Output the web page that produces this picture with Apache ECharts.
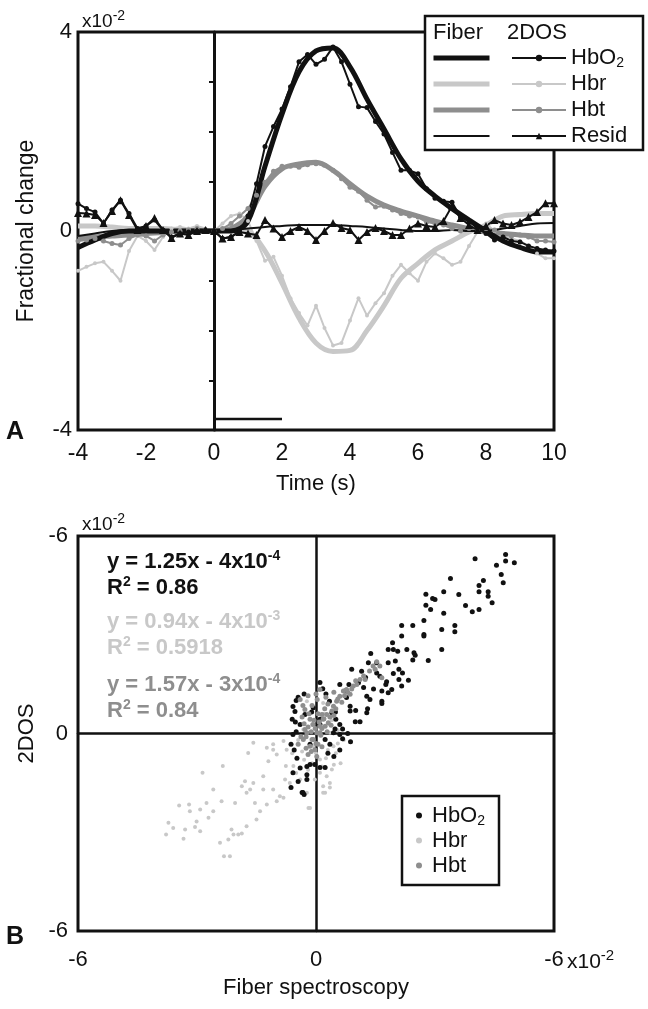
<!DOCTYPE html>
<html>
<head>
<meta charset="utf-8">
<title>Fiber vs 2DOS</title>
<script src="https://cdn.jsdelivr.net/npm/echarts@6/dist/echarts.min.js"></script>
<style>
html, body { margin: 0; padding: 0; background: #fff; }
#main { width: 648px; height: 1009px; }
</style>
</head>
<body>
<div id="main"></div>
<script>
// ---- panel A : fractional change (x10^-2) vs time (s) ----
var tFiber = [-4, -3.5, -3, -2.5, -2, -1.5, -1, -0.5, 0, 0.5, 1, 1.5, 2, 2.5, 3, 3.5, 4, 4.5, 5, 5.5, 6, 6.5, 7, 7.5, 8, 8.5, 9, 9.5, 10];
var fiberHbO2 = [-0.33, -0.18, -0.05, 0, 0, 0, 0, 0, 0, 0, 0.2, 1.3, 2.35, 3.2, 3.62, 3.68, 3.3, 2.65, 2.05, 1.45, 1.0, 0.7, 0.45, 0.22, 0, -0.2, -0.33, -0.42, -0.42];
var fiberHbr = [0.1, 0.1, 0.08, 0.05, 0.05, 0.05, 0.02, 0, 0, 0.05, 0, -0.4, -1.05, -1.75, -2.25, -2.42, -2.4, -2.0, -1.5, -0.95, -0.65, -0.38, -0.2, -0.02, 0.12, 0.3, 0.33, 0.35, 0.35];
var fiberHbt = [-0.15, -0.12, -0.1, -0.08, -0.05, -0.03, 0, 0, 0, 0.05, 0.3, 0.9, 1.25, 1.35, 1.38, 1.22, 0.95, 0.7, 0.52, 0.4, 0.3, 0.2, 0.12, 0.05, -0.02, -0.05, -0.08, -0.1, -0.1];
var fiberResid = [-0.1, -0.05, 0, 0.02, 0, 0, 0, 0, 0, 0.02, 0.05, 0.08, 0.1, 0.12, 0.12, 0.12, 0.1, 0.08, 0.05, 0.02, 0, 0, 0.02, 0, 0, 0.05, 0.1, 0.15, 0.16];

var tDos = [-4, -3.75, -3.5, -3.25, -3, -2.75, -2.5, -2.25, -2, -1.75, -1.5, -1.25, -1, -0.75, -0.5, -0.25,
  0, 0.25, 0.5, 0.75, 1, 1.25, 1.5, 1.75, 2, 2.25, 2.5, 2.75, 3, 3.25, 3.5, 3.75,
  4, 4.25, 4.5, 4.75, 5, 5.25, 5.5, 5.75, 6, 6.25, 6.5, 6.75, 7, 7.25, 7.5, 7.75,
  8, 8.25, 8.5, 8.75, 9, 9.25, 9.5, 9.75, 10];
var dosHbO2 = [0.55, 0.45, 0.38, 0.15, 0.42, 0.62, 0.35, 0.05, 0.1, 0.22, 0.02, -0.12, -0.05, -0.02, 0, 0.02,
  0, -0.15, -0.12, 0, 0.3, 0.95, 1.7, 2.1, 2.45, 2.9, 3.4, 3.55, 3.35, 3.45, 3.7, 3.4,
  2.95, 2.5, 2.48, 2.2, 1.95, 1.58, 1.22, 1.22, 1.15, 0.85, 0.66, 0.6, 0.58, 0.28, 0.2, 0.05,
  -0.05, -0.18, -0.12, -0.2, -0.22, -0.3, -0.35, -0.38, -0.4];
var dosHbr = [-0.8, -0.72, -0.65, -0.62, -0.8, -1.0, -0.4, -0.1, -0.2, -0.38, -0.12, 0.05, 0.08, 0.05, 0.1, 0.05,
  0, 0.15, 0.3, 0.35, 0.2, -0.2, -0.6, -0.52, -0.9, -1.35, -1.65, -1.9, -1.5, -1.95, -2.3, -2.25,
  -1.8, -1.35, -1.7, -1.45, -1.25, -0.9, -0.68, -0.85, -1.0, -0.62, -0.45, -0.55, -0.68, -0.62, -0.3, -0.02,
  0.15, 0, -0.1, -0.15, -0.2, -0.3, -0.45, -0.55, -0.55];
var dosHbt = [-0.2, -0.18, -0.15, -0.2, -0.25, -0.28, -0.15, -0.08, -0.1, -0.2, -0.08, -0.02, 0, 0.02, 0.05, 0.02,
  0, 0.05, 0.15, 0.3, 0.45, 0.72, 0.98, 1.2, 1.3, 1.3, 1.28, 1.33, 1.35, 1.32, 1.22, 1.05,
  0.88, 0.8, 0.62, 0.48, 0.5, 0.42, 0.35, 0.3, 0.28, 0.18, 0.15, 0.12, 0.05, 0, 0.05, 0.02,
  0.05, 0.02, -0.05, -0.1, -0.08, -0.12, -0.2, -0.2, -0.22];
var dosResid = [0.36, 0.35, 0.32, 0.16, 0.4, 0.62, 0.32, 0.02, 0.1, 0.26, 0.02, -0.14, -0.05, -0.08, 0, 0.02,
  0, -0.15, -0.12, -0.02, -0.05, -0.08, 0.22, 0.05, -0.12, 0, 0.08, 0, -0.18, 0, 0.16, 0.06,
  0.02, -0.18, -0.02, 0.06, 0, -0.08, -0.08, 0.05, 0.15, 0.1, 0.08, 0.2, 0.5, 0.26, 0.12, 0.02,
  0.1, 0.22, 0.15, 0.12, 0.18, 0.28, 0.38, 0.56, 0.56];

var stimT = [0, 2];
var stimLevel = -3.78;

// ---- panel B : 2DOS vs fiber spectroscopy (x10^-2) ----
var scatHbO2 = [[4.78,5.44],[4.78,5.24],[5.0,5.19],[4.01,5.31],[4.55,5.11],[4.67,4.83],[4.72,4.58],[4.22,4.65],[4.11,4.5],[4.11,4.31],
  [4.34,4.31],[4.34,4.17],[4.44,3.97],[3.94,3.7],[4.11,3.77],[3.77,3.89],[3.6,4.22],[3.39,4.71],[3.22,4.31],[2.77,4.23],
  [2.94,4.1],[3.0,4.07],[2.77,3.9],[2.89,3.77],[3.22,3.65],[2.72,3.43],[2.72,3.01],[2.72,2.96],[3.17,3.16],[3.5,3.28],
  [3.5,3.09],[3.17,2.55],[2.83,2.22],[2.44,3.28],[2.16,3.28],[2.16,2.96],[2.47,2.45],[2.44,2.23],[2.5,2.38],[1.93,2.76],
  [1.82,2.55],[1.95,2.55],[2.06,2.5],[2.29,2.55],[1.82,2.15],[1.38,2.43],[1.32,2.15],[1.53,2.15],[2.09,1.95],[2.18,1.84],
  [1.95,1.82],[2.09,1.64],[2.16,1.44],[2.33,1.62],[1.78,1.57],[1.76,1.49],[1.91,1.34],[1.66,1.29],[1.82,1.24],[1.66,0.98],
  [1.66,0.91],[1.28,1.13],[1.36,1.03],[1.3,0.75],[1.28,0.63],[0.86,0.83],[0.86,0.68],[0.6,1.49],[0.83,1.49],[0.77,1.09],
  [0.17,1.36],[0.34,0.98],[0.49,0.65],[0.5,0.43],[0.6,0.27],[0.67,0.14],[0.99,0.36],[1.11,0.36],[0.87,-0.25],[0.67,-0.16],
  [0.48,0.14],[-0.07,0.78],[-0.11,0.65],[-0.58,0.82],[-0.6,0.43],[-0.58,-0.03],[-0.63,-0.33],[-0.58,-1.19],[-0.63,-1.64],[-0.45,-1.46],
  [-0.35,-1.79],[-0.3,-1.85],[-0.23,-1.25],[-0.23,-1.0],[-0.03,-0.94],[0.1,-1.03],[-0.15,-0.94],[0.23,-1.03],[-0.33,-1.79],[-0.23,-1.4],
  [-0.15,-0.33],[0.35,-0.33],[-0.4,0.27],[-0.28,0.58],[-0.53,0.67],[0.1,0.27],[0.23,-0.18],[0.6,-0.03],[1.15,1.89],[1.07,1.54],
  [1.53,1.84],[1.61,1.74],[0.73,1.29],[0.4,0.63],[0.44,0.02],[0.1,0.43],
  [-0.52,0.35],[-0.5,0.05],[-0.55,-0.5],[-0.48,-0.75],[-0.4,-1.05],[-0.5,1.0],[-0.45,1.1],[-0.3,1.2],[0.1,1.55],[0.25,1.2],
  [0.3,-0.6],[0.45,-0.7],[0.6,-0.5],[0.8,0.0],[1.0,0.7],[1.2,1.4],[0.9,1.95],[1.25,1.7],[1.45,1.35],[2.0,2.2]];
var scatHbr = [[-3.78,-3.07],[-3.72,-2.71],[-3.6,-2.87],[-3.45,-2.19],[-3.34,-3.2],[-3.3,-2.92],[-3.2,-2.16],[-3.18,-2.36],[-3.05,-2.84],[-3.01,-2.67],
  [-2.92,-2.31],[-2.92,-2.97],[-2.86,-1.19],[-2.76,-2.11],[-2.71,-2.56],[-2.59,-2.36],[-2.59,-1.7],[-2.42,-3.32],[-2.38,-2.06],[-2.35,-0.99],
  [-2.32,-3.73],[-2.17,-3.73],[-2.21,-3.22],[-2.13,-2.92],[-2.04,-2.11],[-2.08,-3.07],[-1.96,-3.07],[-1.87,-3.04],[-1.75,-2.82],[-1.71,-0.59],
  [-1.87,-1.6],[-1.79,-1.45],[-1.75,-1.8],[-1.66,-1.7],[-1.58,-1.5],[-1.54,-2.11],[-1.5,-2.61],[-1.41,-2.36],[-1.33,-1.3],[-1.33,-1.7],
  [-1.24,-2.16],[-1.2,-0.84],[-1.08,-0.49],[-1.08,-1.7],[-0.99,-2.06],[-0.91,-1.91],[-0.82,-1.95],[-0.78,-1.4],[-0.76,-0.99],[-0.74,-0.49],
  [-0.66,-1.5],[-0.57,-0.99],[-0.4,-1.4],[-0.23,-1.8],[-0.15,-2.26],[-0.03,-1.4],[0.1,-1.19],[0.18,-1.6],[0.23,-1.8],[0.35,-1.5],
  [0.35,-1.64],[0.27,-1.3],[0.18,-1.8],[-0.19,-2.26],[0.4,-1.09],[0.1,-0.79],[-1.58,-0.28],[-1.24,-0.43],[-1.08,-0.33],[-0.82,-0.23],
  [-0.99,-0.64],[-0.23,0.98],[0.18,0.93],[0.35,0.02],[0.44,-0.39],[-0.07,-0.39],[-0.32,0.12],[0.55,0.1],[0.7,-0.2],[0.3,0.3],
  [0.5,-0.6],[0.62,-0.9],[0.25,-0.75],
  [-0.45,-0.2],[-0.35,-0.55],[-0.3,-0.8],[-0.2,-1.1],[-0.1,-0.9],[0.0,-0.6],[0.15,-1.0],[0.3,-0.5],[0.45,-0.95],[-0.6,-0.6],
  [-0.5,-1.2],[0.2,0.6],[0.4,0.4],[-0.15,0.6],[0.55,-0.3]];
var scatHbt = [[1.53,2.18],[1.44,2.05],[1.49,1.95],[1.61,2.05],[1.66,1.69],[1.24,1.64],[1.11,1.64],[1.03,1.49],[0.94,1.44],[0.77,1.34],
  [0.69,1.29],[0.86,1.19],[0.6,1.13],[0.52,0.98],[0.44,0.83],[0.4,0.68],[0.27,0.58],[0.18,0.43],[0.1,0.22],[0.02,0.02],
  [-0.07,-0.18],[-0.15,-0.39],[0.1,0.02],[0.23,0.22],[0.31,0.33],[-0.23,0.02],[-0.32,-0.18],[-0.4,1.03],[-0.28,0.73],[-0.15,0.43],
  [-0.28,0.12],[-0.1,-0.18],[-0.03,-0.49],[0.05,-0.33],[-0.2,-0.64],[0.15,0.58],[-0.45,-0.33],[-0.08,0.27],[0.03,1.03],[0.1,1.34],
  [-0.35,0.5],[-0.3,0.3],[-0.25,-0.1],[-0.2,0.2],[-0.18,0.6],[-0.12,0.05],[-0.1,0.85],[-0.05,0.4],[-0.02,0.15],[0.0,-0.3],
  [0.05,0.6],[0.08,0.35],[0.12,-0.05],[0.15,0.15],[0.2,0.45],[0.22,0.75],[0.28,0.05],[0.3,0.9],[0.35,0.5],[0.38,0.25],
  [0.45,0.55],[0.5,0.75],[0.55,1.05],[0.65,0.95],[0.72,1.15],[0.8,1.25],[0.9,1.35],[1.0,1.6],[1.2,1.75],[1.35,1.9],
  [-0.38,-0.1],[-0.25,-0.45],[-0.12,-0.55],[0.02,-0.7],[0.15,-0.4],[-0.33,0.85],[-0.2,1.15],[0.0,1.2],[0.25,1.1],[0.45,1.25]];

var bTickValues = [-6, 0, 6];
var bTickText = ['-6', '0', '-6'];
var fitLines = [
  { eq: 'y = 1.25x - 4x10{sup|-4}', r2: 'R{sup|2} = 0.86' },
  { eq: 'y = 0.94x - 4x10{sup|-3}', r2: 'R{sup|2} = 0.5918' },
  { eq: 'y = 1.57x - 3x10{sup|-4}', r2: 'R{sup|2} = 0.84' }
];

var FONT = "'Liberation Sans', Arial, sans-serif";
var BLACK = '#111';
var LIGHT = '#c8c8c8';
var MID = '#8e8e8e';
var fitColors = [BLACK, LIGHT, MID];

function pairs(ts, vs) {
  return ts.map(function (t, i) { return [t, vs[i]]; });
}
function bLabel(v) {
  var i = bTickValues.indexOf(v);
  return i < 0 ? '' : bTickText[i];
}

var chart = echarts.init(document.getElementById('main'), null, { renderer: 'canvas' });

function fiberLine(name, ts, vs, color, width) {
  return {
    name: name, type: 'line', xAxisIndex: 0, yAxisIndex: 0,
    data: pairs(ts, vs), smooth: 0.35, symbol: 'none',
    lineStyle: { color: color, width: width }, itemStyle: { color: color },
    silent: true
  };
}
function dosLine(name, ts, vs, color, symbol, size) {
  return {
    name: name, type: 'line', xAxisIndex: 0, yAxisIndex: 0,
    data: pairs(ts, vs), symbol: symbol, symbolSize: size, showSymbol: true,
    lineStyle: { color: color, width: 2 }, itemStyle: { color: color },
    silent: true
  };
}

var subRich = { fontSize: 14, fontFamily: FONT, color: BLACK, padding: [11, 0, 0, 0] };

var graphics = [
  { type: 'text', x: 82, y: 22, z: 100, style: { text: 'x10{sup|-2}', fontSize: 19, fontFamily: FONT, fill: BLACK, verticalAlign: 'middle',
      rich: { sup: { fontSize: 14, fontFamily: FONT, fill: BLACK, padding: [0, 0, 11, 0] } } } },
  { type: 'text', x: 82, y: 525, z: 100, style: { text: 'x10{sup|-2}', fontSize: 19, fontFamily: FONT, fill: BLACK, verticalAlign: 'middle',
      rich: { sup: { fontSize: 14, fontFamily: FONT, fill: BLACK, padding: [0, 0, 11, 0] } } } },
  { type: 'text', x: 567, y: 962, z: 100, style: { text: 'x10{sup|-2}', fontSize: 21, fontFamily: FONT, fill: BLACK, verticalAlign: 'middle',
      rich: { sup: { fontSize: 15, fontFamily: FONT, fill: BLACK, padding: [0, 0, 12, 0] } } } },
  { type: 'text', x: 6, y: 432, z: 100, style: { text: 'A', fontSize: 25, fontWeight: 'bold', fontFamily: FONT, fill: BLACK, verticalAlign: 'middle' } },
  { type: 'text', x: 6, y: 937, z: 100, style: { text: 'B', fontSize: 25, fontWeight: 'bold', fontFamily: FONT, fill: BLACK, verticalAlign: 'middle' } },
  // legend frames
  { type: 'rect', z: 100, shape: { x: 425, y: 16, width: 218, height: 134 }, style: { fill: '#fff', stroke: BLACK, lineWidth: 2.5 } },
  { type: 'rect', z: 100, shape: { x: 402, y: 796, width: 97, height: 89 }, style: { fill: '#fff', stroke: BLACK, lineWidth: 2.5 } },
  { type: 'text', x: 433, y: 33, z: 120, style: { text: 'Fiber', fontSize: 22, fontFamily: FONT, fill: BLACK, verticalAlign: 'middle' } },
  { type: 'text', x: 507, y: 33, z: 120, style: { text: '2DOS', fontSize: 22, fontFamily: FONT, fill: BLACK, verticalAlign: 'middle' } }
];
var fitY = [[562, 588], [622, 648], [685, 711]];
fitLines.forEach(function (f, i) {
  [f.eq, f.r2].forEach(function (txt, j) {
    graphics.push({
      type: 'text', x: 107, y: fitY[i][j], z: 100,
      style: {
        text: txt, fontSize: 22, fontWeight: 'bold', fontFamily: FONT, fill: fitColors[i], verticalAlign: 'middle',
        rich: { sup: { fontSize: 14, fontWeight: 'bold', fontFamily: FONT, fill: fitColors[i], padding: [0, 0, 12, 0] } }
      }
    });
  });
});

var option = {
  animation: false,
  backgroundColor: '#fff',
  textStyle: { fontFamily: FONT, color: BLACK },
  grid: [
    { left: 78, top: 32, width: 476, height: 398, show: true, borderColor: BLACK, borderWidth: 3, outerBoundsMode: 'none' },
    { left: 78, top: 536, width: 476, height: 395, show: true, borderColor: BLACK, borderWidth: 3, outerBoundsMode: 'none' }
  ],
  xAxis: [
    { gridIndex: 0, type: 'value', min: -4, max: 10, interval: 2,
      axisLine: { show: false, onZero: false }, axisTick: { show: false }, splitLine: { show: false },
      axisLabel: { fontSize: 23, margin: 12, color: BLACK, fontFamily: FONT },
      name: 'Time (s)', nameLocation: 'middle', nameGap: 43,
      nameTextStyle: { fontSize: 22, color: BLACK, fontFamily: FONT } },
    { gridIndex: 1, type: 'value', min: -6, max: 6, interval: 6,
      axisLine: { show: false, onZero: false }, axisTick: { show: false }, splitLine: { show: false },
      axisLabel: { fontSize: 22, margin: 18, color: BLACK, fontFamily: FONT, formatter: bLabel },
      name: 'Fiber spectroscopy', nameLocation: 'middle', nameGap: 46,
      nameTextStyle: { fontSize: 22, color: BLACK, fontFamily: FONT } },
    { gridIndex: 1, type: 'value', min: -6, max: 6, position: 'bottom',
      axisLine: { show: true, onZero: true, lineStyle: { color: BLACK, width: 2.5 } },
      axisTick: { show: false }, axisLabel: { show: false }, splitLine: { show: false } }
  ],
  yAxis: [
    { gridIndex: 0, type: 'value', min: -4, max: 4, interval: 4,
      axisLine: { show: false, onZero: false }, axisTick: { show: false }, splitLine: { show: false },
      axisLabel: { fontSize: 22, margin: 6, color: BLACK, fontFamily: FONT },
      name: 'Fractional change', nameLocation: 'middle', nameGap: 40,
      nameTextStyle: { fontSize: 23, color: BLACK, fontFamily: FONT } },
    { gridIndex: 0, type: 'value', min: -4, max: 4, interval: 1, position: 'left',
      axisLine: { show: true, onZero: true, lineStyle: { color: BLACK, width: 3 } },
      axisTick: { show: true, length: 5, lineStyle: { color: BLACK, width: 2 } },
      axisLabel: { show: false }, splitLine: { show: false } },
    { gridIndex: 1, type: 'value', min: -6, max: 6, interval: 6,
      axisLine: { show: false, onZero: false }, axisTick: { show: false }, splitLine: { show: false },
      axisLabel: { fontSize: 22, margin: 10, color: BLACK, fontFamily: FONT, padding: [10, 0, 0, 0], formatter: bLabel },
      name: '2DOS', nameLocation: 'middle', nameGap: 40,
      nameTextStyle: { fontSize: 22, color: BLACK, fontFamily: FONT } },
    { gridIndex: 1, type: 'value', min: -6, max: 6, position: 'left',
      axisLine: { show: true, onZero: true, lineStyle: { color: BLACK, width: 2.5 } },
      axisTick: { show: false }, axisLabel: { show: false }, splitLine: { show: false } }
  ],
  legend: [
    { z: 110, orient: 'vertical', left: 431, top: 45, padding: 0, itemGap: 0, selectedMode: false,
      itemWidth: 56, itemHeight: 8, itemStyle: { opacity: 0 }, lineStyle: { width: 5 },
      textStyle: { fontSize: 22, lineHeight: 26 },
      formatter: function () { return ' '; },
      data: ['fHbO2', 'fHbr', 'fHbt', { name: 'fResid', lineStyle: { width: 2 } }] },
    { z: 110, orient: 'vertical', left: 511, top: 45, padding: 0, itemGap: 0, selectedMode: false,
      itemWidth: 54, itemHeight: 8, lineStyle: { width: 2 },
      textStyle: { fontSize: 22, lineHeight: 26, color: BLACK, fontFamily: FONT, rich: { sub: subRich } },
      formatter: function (n) { return n === 'HbO2' ? 'HbO{sub|2}' : n; },
      data: ['HbO2', 'Hbr', 'Hbt', 'Resid'] },
    { z: 110, orient: 'vertical', left: 416, top: 803, padding: 0, itemGap: 0, selectedMode: false,
      itemWidth: 16, itemHeight: 6, icon: 'circle',
      textStyle: { fontSize: 22, lineHeight: 25, color: BLACK, fontFamily: FONT, rich: { sub: subRich } },
      formatter: function (n) { return n === 'sHbO2' ? 'HbO{sub|2}' : n.slice(1); },
      data: ['sHbO2', 'sHbr', 'sHbt'] }
  ],
  graphic: { elements: graphics },
  series: [
    fiberLine('fHbr', tFiber, fiberHbr, LIGHT, 5),
    dosLine('Hbr', tDos, dosHbr, LIGHT, 'circle', 4),
    fiberLine('fHbt', tFiber, fiberHbt, MID, 5),
    dosLine('Hbt', tDos, dosHbt, MID, 'circle', 5),
    fiberLine('fResid', tFiber, fiberResid, BLACK, 2),
    dosLine('Resid', tDos, dosResid, BLACK, 'triangle', 8),
    dosLine('HbO2', tDos, dosHbO2, BLACK, 'circle', 5),
    fiberLine('fHbO2', tFiber, fiberHbO2, BLACK, 5),
    { name: 'stim', type: 'line', xAxisIndex: 0, yAxisIndex: 0, symbol: 'none', silent: true,
      data: [[stimT[0], stimLevel], [stimT[1], stimLevel]],
      lineStyle: { color: BLACK, width: 2.5 } },
    { name: 'sHbr', type: 'scatter', xAxisIndex: 1, yAxisIndex: 2, data: scatHbr, symbolSize: 4,
      itemStyle: { color: LIGHT, opacity: 1 }, silent: true },
    { name: 'sHbO2', type: 'scatter', xAxisIndex: 1, yAxisIndex: 2, data: scatHbO2, symbolSize: 5,
      itemStyle: { color: BLACK, opacity: 1 }, silent: true },
    { name: 'sHbt', type: 'scatter', xAxisIndex: 1, yAxisIndex: 2, data: scatHbt, symbolSize: 5,
      itemStyle: { color: MID, opacity: 1 }, silent: true }
  ]
};
chart.setOption(option);
</script>
</body>
</html>
